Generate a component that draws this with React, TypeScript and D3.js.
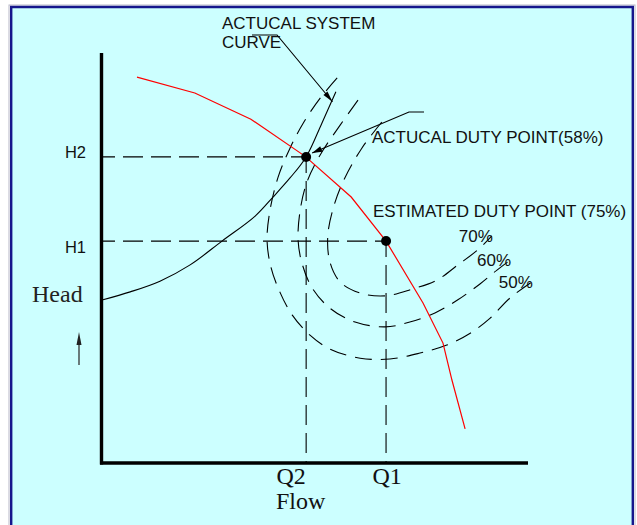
import React from 'react';
import * as d3 from 'd3';

// ---- Data (Flow / Head in relative units 0..100) ----
const pumpFlow = [8.0, 21.6, 34.8, 47.5, 58.4, 66.6, 75.3, 80.0, 82.1, 85.2];
const pumpHead = [97.2, 93.2, 86.6, 77.3, 67.0, 55.9, 40.3, 30.2, 20.9, 8.6];

const systemFlow = [0, 6.4, 13.4, 20.5, 28.0, 35.8, 40.0, 44.0, 47.8, 51.5, 54.8];
const systemHead = [41.1, 43.1, 45.8, 49.9, 55.9, 62.2, 67.0, 71.8, 77.1, 85.6, 93.5];

const eff70Flow = [65.6, 60.9, 56.9, 54.4, 52.9, 53.4, 55.8, 60.5, 66.4, 72.7, 78.6, 83.5, 88.2, 91.5];
const eff70Head = [85.9, 79.3, 71.8, 65.0, 57.4, 50.6, 45.6, 42.8, 42.1, 43.8, 46.1, 49.9, 53.7, 57.2];

const eff60Flow = [60.0, 55.8, 51.1, 48.0, 46.4, 45.9, 46.8, 49.2, 53.4, 59.3, 66.4, 72.2, 78.1, 83.5, 88.7, 92.7, 95.8];
const eff60Head = [91.4, 85.1, 77.6, 70.8, 63.7, 56.2, 50.4, 44.1, 39.0, 35.5, 34.3, 35.5, 37.8, 41.1, 45.1, 48.6, 51.1];

const eff50Flow = [55.1, 51.1, 47.1, 44.0, 41.2, 39.3, 38.6, 39.5, 41.6, 44.5, 48.7, 53.4, 60.5, 67.5, 74.6, 80.9, 86.4, 91.1, 95.8, 100.9];
const eff50Head = [97.0, 91.9, 85.6, 79.3, 72.0, 63.7, 56.2, 49.4, 43.1, 37.3, 32.2, 28.7, 26.4, 26.2, 27.7, 29.7, 32.7, 36.5, 41.6, 45.6];

const effLabels = ['70%', '60%', '50%'];

const dutyFlow = [47.8, 66.6]; // Q2, Q1
const dutyHead = [77.1, 55.9]; // H2, H1
const flowLabels = ['Q2', 'Q1'];
const headLabels = ['H2', 'H1'];

const systemLabel = ['ACTUCAL SYSTEM', 'CURVE'];
const actualLabel = 'ACTUCAL DUTY POINT(58%)';
const estimatedLabel = 'ESTIMATED DUTY POINT (75%)';
const axisTitleX = 'Flow';
const axisTitleY = 'Head';

const W = 637;
const H = 525;

const x = d3.scaleLinear().domain([0, 100]).range([103, 528]);
const y = d3.scaleLinear().domain([0, 100]).range([463, 66]);

const zip = (a: number[], b: number[]) => a.map((v, i) => [v, b[i]] as [number, number]);

const linear = d3.line<[number, number]>().x(d => x(d[0])).y(d => y(d[1]));
const smooth = d3
  .line<[number, number]>()
  .x(d => x(d[0]))
  .y(d => y(d[1]))
  .curve(d3.curveCatmullRom.alpha(0.5));

const SANS = '"Liberation Sans", Arial, sans-serif';
const SERIF = '"Liberation Serif", "Times New Roman", serif';

function arrowHead(fromX: number, fromY: number, toX: number, toY: number, len: number, half: number) {
  const dx = toX - fromX;
  const dy = toY - fromY;
  const n = Math.hypot(dx, dy);
  const ux = dx / n;
  const uy = dy / n;
  const bx = toX - ux * len;
  const by = toY - uy * len;
  const px = -uy * half;
  const py = ux * half;
  return `M${toX},${toY}L${bx + px},${by + py}L${bx - px},${by - py}Z`;
}

export default function App() {
  const effSeries = [
    { pts: zip(eff70Flow, eff70Head), label: effLabels[0] },
    { pts: zip(eff60Flow, eff60Head), label: effLabels[1] },
    { pts: zip(eff50Flow, eff50Head), label: effLabels[2] },
  ];

  const x0 = x(0);
  const yBase = y(0);

  const q2x = x(dutyFlow[0]);
  const h2y = y(dutyHead[0]);
  const q1x = x(dutyFlow[1]);
  const h1y = y(dutyHead[1]);

  // leader for system curve
  const sysTipX = x(54.0);
  const sysTipY = y(91.0);
  const sysStartX = 277;
  const sysStartY = 35;

  // leader for actual duty point
  const dutyTipX = q2x + 6;
  const dutyTipY = h2y - 4;
  const dutyElbowX = 409;
  const dutyElbowY = 112;

  return (
    <svg
      width={W}
      height={H}
      style={{ position: 'absolute', left: 0, top: 0, display: 'block' }}
      xmlns="http://www.w3.org/2000/svg"
    >
      <rect x={0} y={0} width={W} height={H} fill="#ffffff" />
      {/* panel */}
      <rect x={9} y={5} width={626} height={H} fill="none" stroke="#b8b8c8" strokeWidth={1} />
      <rect x={10} y={6} width={624} height={H} fill="#ccffff" />
      <line x1={10} y1={7} x2={634} y2={7} stroke="#16168c" strokeWidth={2.4} />
      <line x1={11.2} y1={6} x2={11.2} y2={H} stroke="#16168c" strokeWidth={2.4} />
      <line x1={632.8} y1={6} x2={632.8} y2={H} stroke="#16168c" strokeWidth={2.4} />

      {/* axes */}
      <line x1={x0 - 1.5} y1={53} x2={x0 - 1.5} y2={yBase + 1.5} stroke="#000" strokeWidth={3.4} />
      <line x1={x0 - 3} y1={yBase} x2={x(100)} y2={yBase} stroke="#000" strokeWidth={3.4} />

      {/* duty point guide lines */}
      <g stroke="#000" strokeWidth={1.1} strokeDasharray="20 8" fill="none">
        <line x1={x0} y1={h2y} x2={q2x} y2={h2y} strokeDashoffset={8} />
        <line x1={x0} y1={h1y} x2={q1x} y2={h1y} strokeDashoffset={8} />
        <line x1={q2x} y1={h2y} x2={q2x} y2={yBase} strokeDashoffset={4} />
        <line x1={q1x} y1={h1y} x2={q1x} y2={yBase} strokeDashoffset={4} />
      </g>

      {/* efficiency curves */}
      <g stroke="#000" strokeWidth={1.1} strokeDasharray="17 9" fill="none">
        {effSeries.map((s, i) => (
          <path key={i} d={smooth(s.pts) || ''} />
        ))}
      </g>
      {effSeries.map((s, i) => {
        const last = s.pts[s.pts.length - 1];
        return (
          <text
            key={i}
            x={x(last[0]) + 1}
            y={y(last[1]) + 6}
            textAnchor="end"
            fontFamily={SANS}
            fontSize={17}
            fill="#111"
          >
            {s.label}
          </text>
        );
      })}

      {/* system curve */}
      <path d={smooth(zip(systemFlow, systemHead)) || ''} fill="none" stroke="#000" strokeWidth={1.1} />

      {/* pump curve */}
      <path d={linear(zip(pumpFlow, pumpHead)) || ''} fill="none" stroke="#ff0000" strokeWidth={1.2} />

      {/* duty points */}
      {dutyFlow.map((q, i) => (
        <circle key={i} cx={x(q)} cy={y(dutyHead[i])} r={5} fill="#000" />
      ))}

      {/* system curve annotation */}
      <text fontFamily={SANS} fontSize={17} fill="#111">
        <tspan x={222} y={29}>{systemLabel[0]}</tspan>
        <tspan x={222} y={48}>{systemLabel[1]}</tspan>
      </text>
      <polyline
        points={`252,${sysStartY} ${sysStartX},${sysStartY} ${sysTipX},${sysTipY}`}
        fill="none"
        stroke="#000"
        strokeWidth={1.1}
      />
      <path d={arrowHead(sysStartX, sysStartY, sysTipX, sysTipY, 11, 2.6)} fill="#000" />

      {/* actual duty point annotation */}
      <polyline
        points={`424,${dutyElbowY} ${dutyElbowX},${dutyElbowY} ${dutyTipX},${dutyTipY}`}
        fill="none"
        stroke="#000"
        strokeWidth={1.1}
      />
      <path d={arrowHead(dutyElbowX, dutyElbowY, dutyTipX, dutyTipY, 10, 3)} fill="#000" />
      <text x={372} y={143} fontFamily={SANS} fontSize={17} fill="#111">
        {actualLabel}
      </text>
      <text x={373} y={217} fontFamily={SANS} fontSize={17} fill="#111">
        {estimatedLabel}
      </text>

      {/* head labels */}
      <text x={86} y={h2y + 1} textAnchor="end" fontFamily={SANS} fontSize={16.5} fill="#111">
        {headLabels[0]}
      </text>
      <text x={86} y={h1y + 12} textAnchor="end" fontFamily={SANS} fontSize={16.5} fill="#111">
        {headLabels[1]}
      </text>

      {/* flow labels */}
      <text x={q2x - 15} y={484} textAnchor="middle" fontFamily={SERIF} fontSize={24} fill="#111">
        {flowLabels[0]}
      </text>
      <text x={q1x + 1} y={484} textAnchor="middle" fontFamily={SERIF} fontSize={24} fill="#111">
        {flowLabels[1]}
      </text>
      <text x={276} y={509} fontFamily={SERIF} fontSize={24} fill="#111">
        {axisTitleX}
      </text>

      {/* head axis title and arrow */}
      <text x={32} y={302} fontFamily={SERIF} fontSize={24} fill="#222">
        {axisTitleY}
      </text>
      <line x1={79} y1={343} x2={79} y2={365} stroke="#333" strokeWidth={1.3} />
      <path d={arrowHead(79, 365, 79, 332, 13, 2.5)} fill="#222" />
    </svg>
  );
}
